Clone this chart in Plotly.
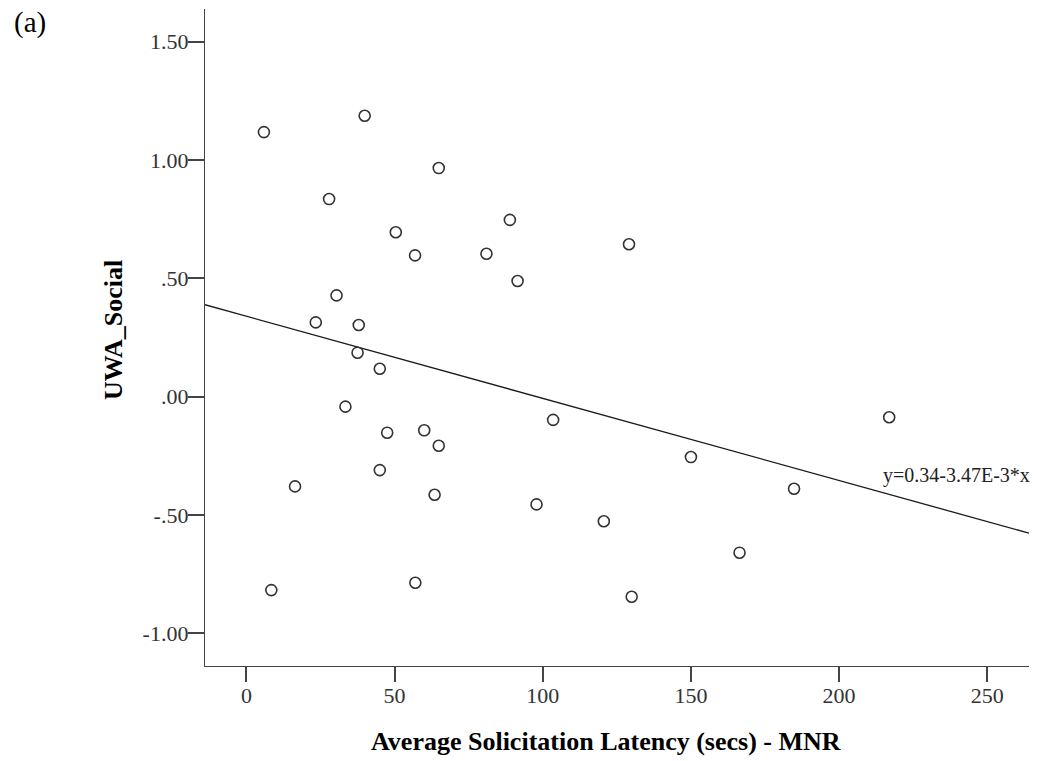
import plotly.graph_objects as go

# Average solicitation latency (secs) vs. UWA_Social score
latency = [5.9, 39.9, 64.9, 27.9, 50.4, 88.9, 56.9, 81.0, 91.5, 129.1,
           30.4, 23.4, 37.9, 37.5, 45.0, 33.4, 47.5, 60.0, 64.9, 103.5,
           216.9, 150.0, 45.0, 16.4, 63.5, 97.9, 184.8, 120.6, 166.4, 8.4,
           57.0, 130.0]
uwa_social = [1.118, 1.187, 0.966, 0.835, 0.695, 0.747, 0.597, 0.604, 0.489, 0.644,
              0.428, 0.314, 0.303, 0.186, 0.118, -0.042, -0.152, -0.142, -0.207, -0.098,
              -0.087, -0.255, -0.310, -0.379, -0.414, -0.455, -0.389, -0.526, -0.659, -0.817,
              -0.786, -0.845]

# Linear fit reported on the chart
fit_intercept = 0.34
fit_slope = -3.47e-3
fit_label = "y=0.34-3.47E-3*x"

x_ticks = [0, 50, 100, 150, 200, 250]
y_ticks = [1.5, 1.0, 0.5, 0.0, -0.5, -1.0]
y_tick_text = ["1.50", "1.00", ".50", ".00", "-.50", "-1.00"]

x_range = [-13.98, 264.08]
y_range = [-1.1377, 1.638]

W, H = 1039, 761
ML, MR, MT, MB = 205, 10, 9, 95
PW, PH = W - ML - MR, H - MT - MB


def px_to_paper(px, py):
    return (px - ML) / PW, (H - MB - py) / PH


serif = "Liberation Serif"
axis_col = "#444444"

fig = go.Figure()

fit_x = list(x_range)
fit_y = [fit_intercept + fit_slope * v for v in fit_x]
fig.add_trace(go.Scatter(
    x=fit_x, y=fit_y, mode="lines",
    line=dict(color="#1a1a1a", width=1.3),
    hoverinfo="skip", showlegend=False,
))

fig.add_trace(go.Scatter(
    x=latency, y=uwa_social, mode="markers",
    marker=dict(symbol="circle-open", size=11, color="#333333",
                line=dict(width=1.6, color="#333333")),
    showlegend=False,
))

annotations = []

ax, ay = px_to_paper(606, 741)
annotations.append(dict(
    text="<b>Average Solicitation Latency (secs) - MNR</b>",
    x=ax, y=ay, xref="paper", yref="paper", xanchor="center", yanchor="middle",
    showarrow=False, font=dict(family=serif, size=26, color="#000000"),
))

tx, ty = px_to_paper(113, 330)
annotations.append(dict(
    text="<b>UWA_Social</b>", textangle=-90,
    x=tx, y=ty, xref="paper", yref="paper", xanchor="center", yanchor="middle",
    showarrow=False, font=dict(family=serif, size=26, color="#000000"),
))

lx, ly = px_to_paper(30, 22)
annotations.append(dict(
    text="(a)", x=lx, y=ly, xref="paper", yref="paper",
    xanchor="center", yanchor="middle", showarrow=False,
    font=dict(family=serif, size=29, color="#000000"),
))

ex, ey = px_to_paper(881, 475)
annotations.append(dict(
    text=fit_label, x=ex, y=ey, xref="paper", yref="paper",
    xanchor="left", yanchor="middle", showarrow=False,
    font=dict(family=serif, size=20, color="#222222"),
))

fig.update_layout(
    width=W, height=H, autosize=False,
    margin=dict(l=ML, r=MR, t=MT, b=MB, pad=0),
    paper_bgcolor="white", plot_bgcolor="white",
    annotations=annotations,
    xaxis=dict(
        range=x_range, tickvals=x_ticks, ticks="outside", ticklen=15,
        tickwidth=1.6, tickcolor=axis_col, showline=True, linecolor=axis_col,
        linewidth=1.3, showgrid=False, zeroline=False, mirror=False,
        ticklabelstandoff=-6,
        tickfont=dict(family=serif, size=22, color="#333333"),
    ),
    yaxis=dict(
        range=y_range, tickvals=y_ticks, ticktext=y_tick_text, ticks="outside",
        ticklen=16, tickwidth=1.6, tickcolor=axis_col, showline=True,
        linecolor=axis_col, linewidth=1.3, showgrid=False, zeroline=False,
        mirror=False, ticklabelstandoff=-5,
        tickfont=dict(family=serif, size=22, color="#333333"),
    ),
)

fig.write_html("out.html")
